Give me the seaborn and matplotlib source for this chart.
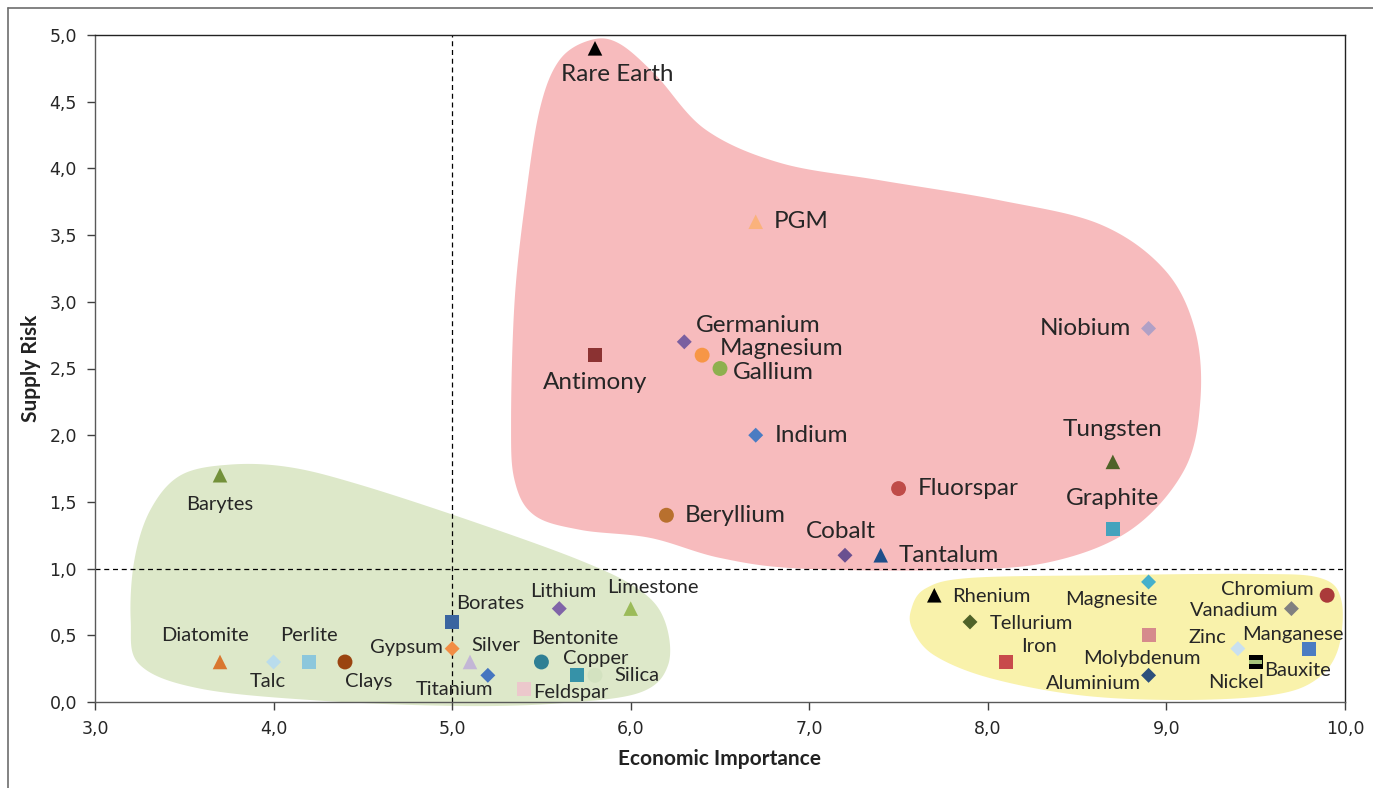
import numpy as np
import pandas as pd
import matplotlib
matplotlib.use("Agg")
import matplotlib.pyplot as plt
from matplotlib.lines import Line2D
from matplotlib.patches import Polygon
from matplotlib.ticker import FuncFormatter, MultipleLocator
import seaborn as sns

# ---------------- data ----------------
names = ["Rare Earth", "PGM", "Germanium", "Magnesium", "Gallium", "Antimony", "Indium",
         "Niobium", "Tungsten", "Graphite", "Fluorspar", "Beryllium", "Cobalt", "Tantalum",
         "Barytes", "Diatomite", "Talc", "Perlite", "Clays", "Borates", "Gypsum", "Silver",
         "Titanium", "Feldspar", "Bentonite", "Copper", "Silica", "Lithium", "Limestone",
         "Rhenium", "Tellurium", "Iron", "Magnesite", "Molybdenum", "Aluminium", "Zinc",
         "Nickel", "Bauxite", "Manganese", "Vanadium", "Chromium"]
economic_importance = [5.8, 6.7, 6.3, 6.4, 6.5, 5.8, 6.7,
                       8.9, 8.7, 8.7, 7.5, 6.2, 7.2, 7.4,
                       3.7, 3.7, 4.0, 4.2, 4.4, 5.0, 5.0, 5.1,
                       5.2, 5.4, 5.5, 5.7, 5.8, 5.6, 6.0,
                       7.7, 7.9, 8.1, 8.9, 8.9, 8.9, 9.4,
                       9.5, 9.5, 9.8, 9.7, 9.9]
supply_risk = [4.9, 3.6, 2.7, 2.6, 2.5, 2.6, 2.0,
               2.8, 1.8, 1.3, 1.6, 1.4, 1.1, 1.1,
               1.7, 0.3, 0.3, 0.3, 0.3, 0.6, 0.4, 0.3,
               0.2, 0.1, 0.3, 0.2, 0.2, 0.7, 0.7,
               0.8, 0.6, 0.3, 0.9, 0.5, 0.2, 0.4,
               0.3, 0.3, 0.4, 0.7, 0.8]
group = (["critical"] * 14) + (["low"] * 15) + (["important"] * 12)

# ---------------- styling (kept apart from data) ----------------
marker_of = {
    "Rare Earth": "^", "PGM": "^", "Germanium": "D", "Magnesium": "o", "Gallium": "o",
    "Antimony": "s", "Indium": "D", "Niobium": "D", "Tungsten": "^", "Graphite": "s",
    "Fluorspar": "o", "Beryllium": "o", "Cobalt": "D", "Tantalum": "^",
    "Barytes": "^", "Diatomite": "^", "Talc": "D", "Perlite": "s", "Clays": "o",
    "Borates": "s", "Gypsum": "D", "Silver": "^", "Titanium": "D", "Feldspar": "s",
    "Bentonite": "o", "Copper": "s", "Silica": "o", "Lithium": "D", "Limestone": "^",
    "Rhenium": "^", "Tellurium": "D", "Iron": "s", "Magnesite": "D", "Molybdenum": "s",
    "Aluminium": "D", "Zinc": "D", "Nickel": "s", "Bauxite": "bar", "Manganese": "s",
    "Vanadium": "D", "Chromium": "o",
}
color_of = {
    "Rare Earth": "#000000", "PGM": "#fab27c", "Germanium": "#7a5fa0", "Magnesium": "#f79646",
    "Gallium": "#8db04e", "Antimony": "#8b3232", "Indium": "#4a7cc2", "Niobium": "#b0a0c6",
    "Tungsten": "#4f6228", "Graphite": "#45a3bd", "Fluorspar": "#bf4b48", "Beryllium": "#b8702e",
    "Cobalt": "#6a5090", "Tantalum": "#1f4e8a",
    "Barytes": "#73913a", "Diatomite": "#d9772f", "Talc": "#b9dcec", "Perlite": "#8cc7dc",
    "Clays": "#9a4410", "Borates": "#3a65a0", "Gypsum": "#f28d44", "Silver": "#c3b6d6",
    "Titanium": "#4575c0", "Feldspar": "#ecc8cc", "Bentonite": "#2f7f94", "Copper": "#3692a8",
    "Silica": "#d3e2c0", "Lithium": "#8064a8", "Limestone": "#9bbb59",
    "Rhenium": "#000000", "Tellurium": "#4f6228", "Iron": "#c84b4b", "Magnesite": "#45b0cc",
    "Molybdenum": "#d68a8c", "Aluminium": "#2c4f7c", "Zinc": "#c9e0f0", "Nickel": "#000000",
    "Bauxite": "#a8c47a", "Manganese": "#4a7cc2", "Vanadium": "#808080", "Chromium": "#aa3a3a",
}
size_of = {"^": 110, "s": 100, "o": 115, "D": 58}

# label offsets in points (dx, dy, ha)
label_pos = {
    "Rare Earth": (16, -19, "center"), "PGM": (13, 0, "left"), "Germanium": (8, 12, "left"),
    "Magnesium": (13, 5, "left"), "Gallium": (9, -3, "left"), "Antimony": (0, -20, "center"),
    "Indium": (14, 0, "left"), "Niobium": (-13, 0, "right"), "Tungsten": (0, 23, "center"),
    "Graphite": (0, 22, "center"), "Fluorspar": (14, 0, "left"), "Beryllium": (13, 0, "left"),
    "Cobalt": (-3, 17, "center"), "Tantalum": (13, 0, "left"),
    "Barytes": (0, -21, "center"), "Diatomite": (-11, 19, "center"), "Talc": (-4, -14, "center"),
    "Perlite": (0, 19, "center"), "Clays": (17, -14, "center"), "Borates": (3, 13, "left"),
    "Gypsum": (-7, 1, "right"), "Silver": (1, 12, "left"), "Titanium": (-24, -10, "center"),
    "Feldspar": (7, -3, "left"), "Bentonite": (24, 17, "center"), "Copper": (-10, 12, "left"),
    "Silica": (14, 0, "left"), "Lithium": (3, 12, "center"), "Limestone": (16, 15, "center"),
    "Rhenium": (13, -1, "left"), "Tellurium": (14, -1, "left"), "Iron": (24, 11, "center"),
    "Magnesite": (-27, -13, "center"), "Molybdenum": (-5, -17, "center"),
    "Aluminium": (-40, -6, "center"), "Zinc": (-22, 8, "center"), "Nickel": (-14, -15, "center"),
    "Bauxite": (6, -6, "left"), "Manganese": (-12, 10, "center"), "Vanadium": (-41, -1, "center"),
    "Chromium": (-43, 4, "center"),
}

# background blobs (outline control points in data units)
red_blob = [(5.77, 4.96), (5.60, 4.81), (5.49, 4.44), (5.41, 3.76), (5.35, 3.01), (5.33, 2.11),
            (5.35, 1.66), (5.46, 1.40), (5.72, 1.29), (6.11, 1.23), (6.50, 1.08), (6.95, 1.00),
            (7.79, 0.99), (8.35, 1.05), (8.80, 1.29), (9.10, 1.74), (9.19, 2.26), (9.16, 2.79),
            (8.99, 3.24), (8.63, 3.58), (8.07, 3.76), (7.40, 3.91), (6.84, 4.04), (6.42, 4.29),
            (6.14, 4.70), (5.93, 4.94)]
green_blob = [(3.76, 1.78), (3.48, 1.70), (3.31, 1.44), (3.22, 1.06), (3.20, 0.61), (3.25, 0.28),
              (3.59, 0.10), (4.26, 0.01), (5.04, -0.03), (5.60, -0.01), (6.05, 0.07), (6.21, 0.28),
              (6.19, 0.61), (6.05, 0.84), (5.72, 1.06), (5.10, 1.36), (4.48, 1.63), (4.09, 1.76)]
yellow_blob = [(7.57, 0.69), (7.65, 0.85), (7.90, 0.93), (8.63, 0.95), (9.47, 0.96), (9.86, 0.93),
               (9.98, 0.76), (9.96, 0.39), (9.83, 0.16), (9.58, 0.05), (9.08, 0.015), (8.52, 0.05),
               (8.01, 0.18), (7.70, 0.35), (7.58, 0.54)]


def catmull_closed(pts, n=30):
    p = np.asarray(pts, float)
    m = len(p)
    out = []
    for i in range(m):
        p0, p1, p2, p3 = p[(i - 1) % m], p[i], p[(i + 1) % m], p[(i + 2) % m]
        t = np.linspace(0, 1, n, endpoint=False)[:, None]
        seg = 0.5 * ((2 * p1) + (-p0 + p2) * t + (2 * p0 - 5 * p1 + 4 * p2 - p3) * t ** 2
                     + (-p0 + 3 * p1 - 3 * p2 + p3) * t ** 3)
        out.append(seg)
    return np.vstack(out)


df = pd.DataFrame({"name": names, "x": economic_importance, "y": supply_risk, "group": group})
df["marker"] = df["name"].map(marker_of)

sns.set_theme(style="white")
plt.rcParams["font.family"] = ["DejaVu Sans"]

fig = plt.figure(figsize=(13.73, 7.88), dpi=100)
ax = fig.add_axes([95 / 1373, 1 - 702 / 788, 1250 / 1373, 667 / 788])

for pts, col in [(red_blob, "#f7bbbd"), (green_blob, "#dde8c9"), (yellow_blob, "#f9f2ab")]:
    poly = Polygon(catmull_closed(pts), closed=True, facecolor=col, edgecolor="none",
                   zorder=0, clip_on=False)
    ax.add_patch(poly)

ax.axvline(5.0, color="black", linestyle=(0, (4, 3)), linewidth=0.9, zorder=1)
ax.axhline(1.0, color="black", linestyle=(0, (4, 3)), linewidth=0.9, zorder=1)

palette = {n: color_of[n] for n in names}
for mk in ["^", "s", "o", "D"]:
    sub = df[df["marker"] == mk]
    sns.scatterplot(data=sub, x="x", y="y", hue="name", palette=palette, marker=mk,
                    s=size_of[mk], edgecolor="none", linewidth=0, legend=False, ax=ax, zorder=3)
bar_marker = [(-1, -0.28), (1, -0.28), (1, 0.28), (-1, 0.28)]
sub = df[df["marker"] == "bar"]
sns.scatterplot(data=sub, x="x", y="y", hue="name", palette=palette, marker=bar_marker,
                s=95, edgecolor="none", linewidth=0, legend=False, ax=ax, zorder=4)

label_font = ["Lato", "DejaVu Sans"]
for _, r in df.iterrows():
    dx, dy, ha = label_pos[r["name"]]
    fs = 17.5 if r["group"] == "critical" else 14.5
    ax.annotate(r["name"], (r["x"], r["y"]), xytext=(dx, dy), textcoords="offset points",
                ha=ha, va="center", fontsize=fs, family=label_font, color="#262626", zorder=5)

ax.set_xlim(3.0, 10.0)
ax.set_ylim(0.0, 5.0)
ax.xaxis.set_major_locator(MultipleLocator(1.0))
ax.yaxis.set_major_locator(MultipleLocator(0.5))
fmt = FuncFormatter(lambda v, p: f"{v:.1f}".replace(".", ","))
ax.xaxis.set_major_formatter(fmt)
ax.yaxis.set_major_formatter(fmt)
ax.tick_params(axis="both", which="major", direction="out", length=6, width=1,
               color="#404040", labelsize=12.5, labelcolor="#262626", bottom=True, left=True, pad=7)
for s in ax.spines.values():
    s.set_color("#222222")
    s.set_linewidth(1.0)
ax.spines["left"].set_color("#595959")
ax.spines["bottom"].set_color("#595959")

ax.set_xlabel("Economic Importance", fontsize=15, fontweight="bold", family=label_font,
              color="#222222", labelpad=8)
ax.set_ylabel("Supply Risk", fontsize=15, fontweight="bold", family=label_font,
              color="#222222", labelpad=6)

# outer frame lines of the original figure
fig.add_artist(Line2D([8 / 1373, 1.0], [1 - 8 / 788, 1 - 8 / 788], transform=fig.transFigure,
                      color="#6d6d6d", linewidth=1.2))
fig.add_artist(Line2D([8 / 1373, 8 / 1373], [0, 1 - 8 / 788], transform=fig.transFigure,
                      color="#6d6d6d", linewidth=1.2))

fig.savefig("out.png", dpi=100)
